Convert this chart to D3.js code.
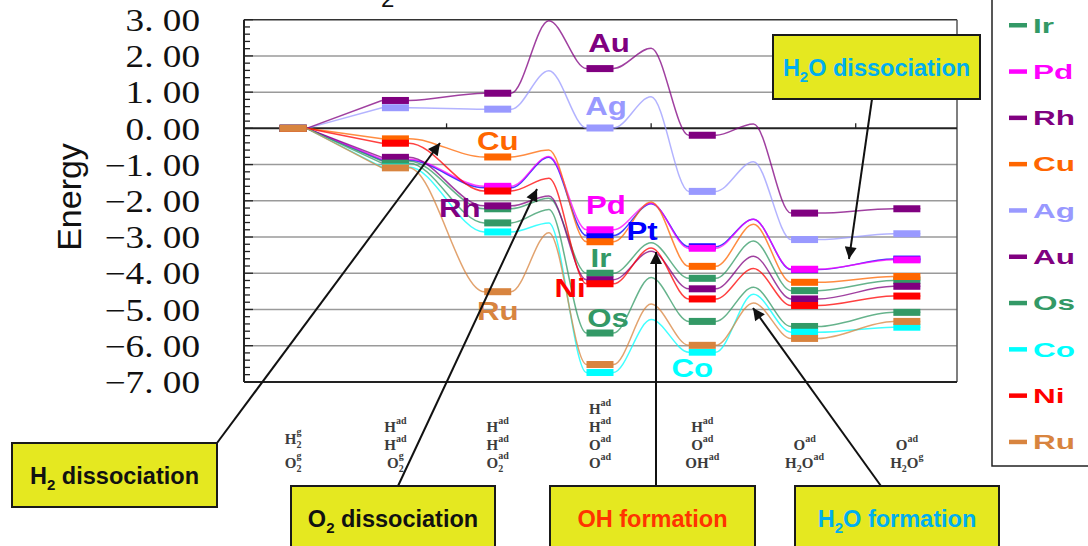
<!DOCTYPE html>
<html>
<head>
<meta charset="utf-8">
<script src="https://cdn.jsdelivr.net/npm/d3@7/dist/d3.min.js"></script>
<style>
  body { margin: 0; background: #fff; }
  svg { display: block; }
</style>
</head>
<body>
<svg id="chart" width="1088" height="546"></svg>
<script>
// ---- Data -------------------------------------------------------------
// Reaction intermediates (index 0..6) and the adsorbate labels printed under each.
const stages = [0, 1, 2, 3, 4, 5, 6];

// Each label line is a list of [text, role] pieces; role: "" normal, "sub", "sup", "supOver" (superscript stacked over the preceding subscript)
const stageLabels = [
  [[["H", ""], ["2", "sub"], ["g", "supOver"]], [["O", ""], ["2", "sub"], ["g", "supOver"]]],
  [[["H", ""], ["ad", "sup"]], [["H", ""], ["ad", "sup"]], [["O", ""], ["2", "sub"], ["g", "supOver"]]],
  [[["H", ""], ["ad", "sup"]], [["H", ""], ["ad", "sup"]], [["O", ""], ["2", "sub"], ["ad", "supOver"]]],
  [[["H", ""], ["ad", "sup"]], [["H", ""], ["ad", "sup"]], [["O", ""], ["ad", "sup"]], [["O", ""], ["ad", "sup"]]],
  [[["H", ""], ["ad", "sup"]], [["O", ""], ["ad", "sup"]], [["OH", ""], ["ad", "sup"]]],
  [[["O", ""], ["ad", "sup"]], [["H", ""], ["2", "sub"], ["O", ""], ["ad", "sup"]]],
  [[["O", ""], ["ad", "sup"]], [["H", ""], ["2", "sub"], ["O", ""], ["g", "sup"]]]
];

const yTicks = [3, 2, 1, 0, -1, -2, -3, -4, -5, -6, -7];

// Metals in legend / drawing order
const metals = ["Pt", "Ir", "Pd", "Rh", "Cu", "Ag", "Au", "Os", "Co", "Ni", "Ru"];
const metalColors = ["#0000ff", "#339966", "#ff00ff", "#800080", "#ff6600", "#9999ff", "#800080", "#339966", "#00ffff", "#ff0000", "#d8843f"];

// Energy of each intermediate (eV)
const ptLevels = [0, -0.88, -1.64, -2.96, -3.27, -3.90, -3.61];
const irLevels = [0, -0.90, -2.22, -4.00, -4.14, -4.48, -4.20];
const pdLevels = [0, -0.85, -1.60, -2.80, -3.31, -3.89, -3.63];
const rhLevels = [0, -0.80, -2.14, -4.18, -4.43, -4.71, -4.36];
const cuLevels = [0, -0.29, -0.79, -3.13, -3.81, -4.25, -4.09];
const agLevels = [0, 0.57, 0.53, 0.01, -1.74, -3.07, -2.91];
const auLevels = [0, 0.77, 0.97, 1.65, -0.19, -2.34, -2.22];
const osLevels = [0, -0.96, -2.61, -5.65, -5.33, -5.47, -5.08];
const coLevels = [0, -1.07, -2.86, -6.74, -6.18, -5.63, -5.49];
const niLevels = [0, -0.41, -1.73, -4.29, -4.71, -4.89, -4.63];
const ruLevels = [0, -1.09, -4.51, -6.52, -5.99, -5.80, -5.33];

// Transition-state energies: O2 dissociation (2→3), OH formation (3→4), H2O formation (4→5)
const ptTS = [-0.80, -2.08, -2.51];
const irTS = [-1.93, -3.16, -3.11];
const pdTS = [-0.78, -2.07, -2.51];
const rhTS = [-1.87, -3.39, -3.53];
const cuTS = [-0.60, -2.03, -2.65];
const agTS = [1.59, 0.87, -0.92];
const auTS = [2.97, 2.21, 0.12];
const osTS = [-2.24, -4.12, -4.39];
const coTS = [-2.61, -5.28, -4.58];
const niTS = [-1.38, -3.30, -3.87];
const ruTS = [-2.88, -4.85, -4.82];

const levelTable = [ptLevels, irLevels, pdLevels, rhLevels, cuLevels, agLevels, auLevels, osLevels, coLevels, niLevels, ruLevels];
const tsTable = [ptTS, irTS, pdTS, rhTS, cuTS, agTS, auTS, osTS, coTS, niTS, ruTS];
const tsAfterStage = [2, 3, 4];

const series = metals.map((m, i) => ({ name: m, color: metalColors[i], levels: levelTable[i], ts: tsTable[i] }));

// ---- Layout -----------------------------------------------------------
const svg = d3.select("#chart");
const plot = { left: 244, right: 957, top: 19.7, bottom: 381.9 };

const x = d3.scaleBand().domain(stages).range([242, 958]).paddingInner(0).paddingOuter(0);
const cx = s => x(s) + x.bandwidth() / 2;
const y = d3.scaleLinear().domain([-7, 3]).range([plot.bottom, plot.top]);
const halfBar = 13.5, barH = 7;

// Title (only its bottom edge falls inside the page)
svg.append("text").attr("x", 381).attr("y", 7)
  .attr("font-family", "Liberation Sans, Arial, sans-serif").attr("font-size", 24).attr("fill", "#111").text("2");

// Gridlines
const grid = svg.append("g");
yTicks.filter(t => t !== 0 && t !== -7 && t !== 3).forEach(t => {
  grid.append("line").attr("x1", plot.left).attr("x2", plot.right)
    .attr("y1", y(t)).attr("y2", y(t)).attr("stroke", "#9a9a9a").attr("stroke-width", 1.5);
});
// Frame top/right
svg.append("line").attr("x1", plot.left).attr("x2", plot.right).attr("y1", y(3)).attr("y2", y(3))
  .attr("stroke", "#333").attr("stroke-width", 1.5);
svg.append("line").attr("x1", plot.right).attr("x2", plot.right).attr("y1", y(3)).attr("y2", y(-7))
  .attr("stroke", "#555").attr("stroke-width", 1.5);
// Bottom
svg.append("line").attr("x1", plot.left).attr("x2", plot.right).attr("y1", y(-7)).attr("y2", y(-7))
  .attr("stroke", "#222").attr("stroke-width", 2);

// Y axis with inward minor ticks
const yAxisG = svg.append("g").attr("transform", `translate(${plot.left},0)`);
const minor = d3.range(-7, 3.0001, 0.2);
minor.forEach(v => {
  const major = Math.abs(v - Math.round(v)) < 1e-6;
  yAxisG.append("line").attr("x1", 0).attr("x2", major ? 9 : 6)
    .attr("y1", y(v)).attr("y2", y(v)).attr("stroke", "#222").attr("stroke-width", 1.3);
});
yAxisG.append("line").attr("x1", 0).attr("x2", 0).attr("y1", y(3)).attr("y2", y(-7))
  .attr("stroke", "#222").attr("stroke-width", 2);

// Tick labels
const fmt = v => {
  const s = d3.format(".2f")(Math.abs(v)).replace(".", ". ");
  return (v < 0 ? "\u2212" : "") + s;
};
yTicks.forEach(t => {
  svg.append("text")
    .attr("transform", `translate(200,${y(t)}) scale(1.2,1)`)
    .attr("text-anchor", "end").attr("dy", "0.36em")
    .attr("font-family", "Liberation Serif, Times New Roman, serif")
    .attr("font-size", 31).attr("fill", "#111")
    .style("white-space", "pre")
    .text(fmt(t));
});

// Axis title
svg.append("text")
  .attr("transform", `translate(81,197) rotate(-90)`)
  .attr("text-anchor", "middle")
  .attr("font-family", "Liberation Sans, Arial, sans-serif")
  .attr("font-size", 34).attr("fill", "#111").text("Energy");

// Category axis along zero energy, ticks every second band boundary
svg.append("line").attr("x1", plot.left).attr("x2", plot.right).attr("y1", y(0)).attr("y2", y(0))
  .attr("stroke", "#222").attr("stroke-width", 2);
[2, 4, 6].forEach(s => {
  svg.append("line").attr("x1", x(s)).attr("x2", x(s)).attr("y1", y(0)).attr("y2", y(0) - 5)
    .attr("stroke", "#222").attr("stroke-width", 1.3);
});

// Category labels with adsorbate super/subscripts
function richLine(sel, parts, big, small) {
  let cur = 0;
  parts.forEach(([txt, role], k) => {
    let target = 0, size = big, dx = 0;
    if (role === "sub") { target = 4; size = small; }
    else if (role === "sup") { target = -8; size = small; }
    else if (role === "supOver") {
      target = -9; size = small;
      const prev = parts[k - 1][0];
      dx = -prev.length * small * 0.5;
    }
    const t = sel.append("tspan").attr("font-size", size).attr("dy", target - cur).text(txt);
    if (dx) t.attr("dx", dx);
    cur = target;
  });
}
const hasSub = parts => parts.some(p => p[1] === "sub");
stageLabels.forEach((lines, s) => {
  // stack lines upward from a common bottom baseline; lines carrying a subscript need extra room below
  const baselines = new Array(lines.length);
  let b = 468;
  for (let i = lines.length - 1; i >= 0; i--) {
    baselines[i] = b;
    if (i > 0) b -= hasSub(lines[i - 1]) ? 24 : 18;
  }
  lines.forEach((parts, i) => {
    const t = svg.append("text")
      .attr("x", cx(s)).attr("y", baselines[i])
      .attr("text-anchor", "middle")
      .attr("font-family", "Liberation Serif, Times New Roman, serif")
      .attr("font-weight", "bold").attr("fill", "#3c3c3c");
    richLine(t, parts, 15, 10);
  });
});

// ---- Energy profiles ---------------------------------------------------
const straight = d3.line().x(d => d[0]).y(d => y(d[1]));
const smooth = d3.line().x(d => d[0]).y(d => y(d[1])).curve(d3.curveMonotoneX);

const lines = svg.append("g").attr("fill", "none").attr("stroke-width", 1.5).attr("stroke-opacity", 0.75);
series.forEach(sr => {
  // gas-phase start to H2 dissociated state
  lines.append("path")
    .attr("d", straight([[cx(0) + halfBar, sr.levels[0]], [cx(1) - halfBar, sr.levels[1]]]))
    .attr("stroke", sr.color);
  const pts = [];
  for (let s = 1; s < stages.length; s++) {
    pts.push([cx(s) - halfBar, sr.levels[s]]);
    pts.push([cx(s) + halfBar, sr.levels[s]]);
    const k = tsAfterStage.indexOf(s);
    if (k >= 0) pts.push([x(s + 1), sr.ts[k]]);
  }
  lines.append("path").attr("d", smooth(pts)).attr("stroke", sr.color);
});

const bars = svg.append("g");
series.forEach(sr => {
  sr.levels.forEach((v, s) => {
    bars.append("rect")
      .attr("x", cx(s) - halfBar).attr("width", halfBar * 2)
      .attr("y", y(v) - barH / 2).attr("height", barH)
      .attr("fill", sr.color);
  });
});

// Metal labels beside their profiles (stage, horizontal nudge, energy of baseline)
const tags = [
  ["Au", 3, 9, 2.11], ["Ag", 3, 6, 0.37], ["Cu", 2, 0, -0.60], ["Rh", 2, -38, -2.44],
  ["Pd", 3, 6, -2.37], ["Pt", 3, 42, -3.09], ["Ir", 3, 1, -3.83], ["Ni", 3, -30, -4.65],
  ["Ru", 2, 0, -5.30], ["Os", 3, 8, -5.48], ["Co", 4, -10, -6.86]
];
tags.forEach(([name, s, dx, e]) => {
  const col = metalColors[metals.indexOf(name)];
  svg.append("text")
    .attr("transform", `translate(${cx(s) + dx},${y(e)}) scale(1.2,1)`)
    .attr("text-anchor", "middle")
    .attr("font-family", "Liberation Sans, Arial, sans-serif")
    .attr("font-weight", "bold").attr("font-size", 26)
    .attr("fill", col).text(name);
});

// ---- Legend -------------------------------------------------------------
// The box runs past the top of the page; only entries that land on the page are drawn.
svg.append("rect").attr("x", 992).attr("y", -6).attr("width", 130).attr("height", 472)
  .attr("fill", "#fff").attr("stroke", "#222").attr("stroke-width", 1.5);
const legendY = i => 25 + (i - 1) * 46.3;
metals.forEach((m, i) => {
  const yy = legendY(i);
  if (yy < 0) return;
  svg.append("rect").attr("x", 1009).attr("y", yy - 2).attr("width", 18).attr("height", 4.5)
    .attr("fill", metalColors[i]);
  svg.append("text")
    .attr("transform", `translate(1033,${yy + 7.5}) scale(1.5,1)`)
    .attr("font-family", "Liberation Sans, Arial, sans-serif")
    .attr("font-weight", "bold").attr("font-size", 21)
    .attr("fill", metalColors[i]).text(m);
});

// ---- Process call-outs -----------------------------------------------------
const defs = svg.append("defs");
defs.append("marker").attr("id", "head").attr("viewBox", "0 0 10 10")
  .attr("refX", 10).attr("refY", 5).attr("markerWidth", 7).attr("markerHeight", 6)
  .attr("markerUnits", "strokeWidth").attr("orient", "auto")
  .append("path").attr("d", "M0,0 L10,5 L0,10 Z").attr("fill", "#111");

const callouts = [
  { box: [12, 443, 205, 64], parts: [["H", ""], ["2", "sub"], [" dissociation", ""]], color: "#111", from: [217, 443], to: [440, 143] },
  { box: [291, 486, 204, 64], parts: [["O", ""], ["2", "sub"], [" dissociation", ""]], color: "#111", from: [398, 486], to: [537, 189] },
  { box: [550, 486, 205, 64], parts: [["OH formation", ""]], color: "#ff3300", from: [656, 486], to: [656, 252] },
  { box: [795, 486, 204, 64], parts: [["H", ""], ["2", "sub"], ["O formation", ""]], color: "#00aeef", from: [881, 486], to: [753, 308] },
  { box: [773, 35, 207, 64], parts: [["H", ""], ["2", "sub"], ["O dissociation", ""]], color: "#00aeef", from: [872, 99], to: [849, 259] }
];
callouts.forEach(c => {
  svg.append("line").attr("x1", c.from[0]).attr("y1", c.from[1]).attr("x2", c.to[0]).attr("y2", c.to[1])
    .attr("stroke", "#111").attr("stroke-width", 2).attr("marker-end", "url(#head)");
});
callouts.forEach(c => {
  const [bx, by, bw, bh] = c.box;
  svg.append("rect").attr("x", bx).attr("y", by).attr("width", bw).attr("height", bh)
    .attr("fill", "#e5e820").attr("stroke", "#1a1a1a").attr("stroke-width", 2);
  const t = svg.append("text").attr("x", bx + bw / 2).attr("y", by + bh / 2 + 8.5)
    .attr("text-anchor", "middle")
    .attr("font-family", "Liberation Sans, Arial, sans-serif")
    .attr("font-weight", "bold").attr("fill", c.color);
  let cur = 0;
  c.parts.forEach(([txt, role]) => {
    const target = role === "sub" ? 6 : 0;
    t.append("tspan").attr("font-size", role === "sub" ? 15 : 23.5).attr("dy", target - cur)
      .style("white-space", "pre").text(txt);
    cur = target;
  });
});
</script>
</body>
</html>
